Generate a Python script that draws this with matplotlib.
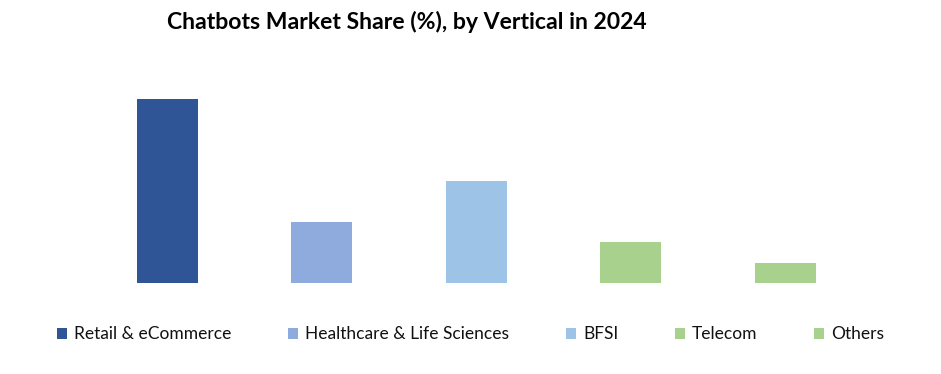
import matplotlib
matplotlib.use("Agg")
import matplotlib.pyplot as plt
from matplotlib.patches import Patch

verticals = ["Retail & eCommerce", "Healthcare & Life Sciences", "BFSI", "Telecom", "Others"]
shares = [45, 15, 25, 10, 5]
colors = ["#2F5597", "#8FAADC", "#9DC3E6", "#A9D18E", "#A9D18E"]

plt.rcParams['font.family'] = ['Lato', 'DejaVu Sans']

fig = plt.figure(figsize=(9.41, 3.74), dpi=100)
ax = fig.add_axes([0.0959, 0.2433, 0.8209, 0.5466])

x = list(range(len(verticals)))
ax.bar(x, shares, width=0.395, color=colors)
ax.set_xlim(-0.5, 4.5)
ax.set_ylim(0, 50)
ax.axis('off')

fig.text(0.432, 0.94, "Chatbots Market Share (%), by Vertical in 2024",
         ha='center', va='center', fontsize=16.6, fontweight='bold', color='black')

handles = [Patch(facecolor=c, edgecolor='none') for c in colors]
fig.legend(handles, verticals, loc='center', bbox_to_anchor=(0.5, 0.106), ncol=5,
           frameon=False, fontsize=12.5, handlelength=0.6, handleheight=0.6,
           handletextpad=0.4, columnspacing=3.25, labelcolor='#111111')

fig.savefig("out.png", dpi=100, facecolor='white')
